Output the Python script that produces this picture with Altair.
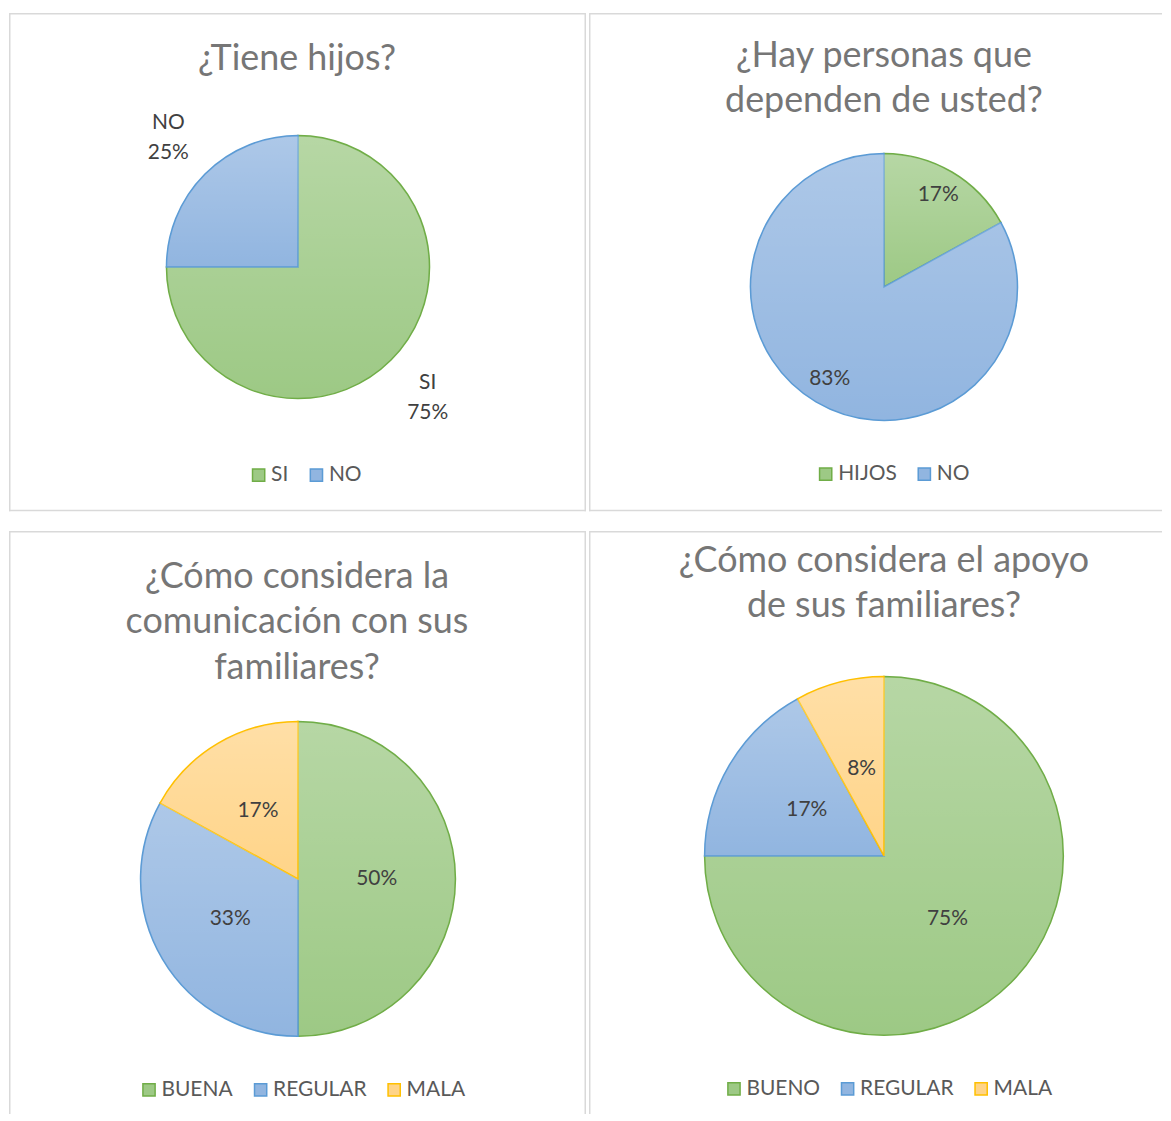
import altair as alt
import pandas as pd

# ---------------- data ----------------
p1_cats = ["SI", "NO"]
p1_vals = [75, 25]
p1_title = ["¿Tiene hijos?"]

p2_cats = ["HIJOS", "NO"]
p2_vals = [17, 83]
p2_title = ["¿Hay personas que", "dependen de usted?"]

p3_cats = ["BUENA", "REGULAR", "MALA"]
p3_vals = [50, 33, 17]
p3_title = ["¿Cómo considera la", "comunicación con sus", "familiares?"]

p4_cats = ["BUENO", "REGULAR", "MALA"]
p4_vals = [75, 17, 8]
p4_title = ["¿Cómo considera el apoyo", "de sus familiares?"]

# ---------------- style ----------------
FILLS = ["#9dc985", "#91b5e0", "#ffd488"]
STROKES = ["#70ad47", "#5b9bd5", "#ffc000"]
SHADE = {
    "gradient": "linear", "x1": 0, "y1": 0, "x2": 0, "y2": 1,
    "stops": [
        {"offset": 0, "color": "rgba(255,255,255,0.26)"},
        {"offset": 1, "color": "rgba(255,255,255,0)"},
    ],
}
FONT = "Lato"
BORDER = "#d9d9d9"


def panel(cats, vals, title_lines, w, h, cx, cy, r, label_r, tx, ty,
          lx, ly, with_cat=False, edges=("top", "left")):
    n = len(cats)
    df = pd.DataFrame({"cat": cats, "val": vals, "idx": list(range(n))})
    leg = alt.Legend(
        orient="none", legendX=lx, legendY=ly, direction="horizontal",
        title=None, symbolType="square", symbolSize=150,
        symbolStrokeWidth=1.5, labelFont=FONT, labelFontSize=21,
        labelColor="#595959", columnPadding=17, labelOffset=2,
    )
    base = alt.Chart(df).encode(
        theta=alt.Theta("val:Q", stack=True),
        order=alt.Order("idx:Q"),
        x=alt.value(cx),
        y=alt.value(cy),
    )
    arcs = base.mark_arc(outerRadius=r, strokeWidth=1.5).encode(
        fill=alt.Fill("cat:N", scale=alt.Scale(domain=cats, range=FILLS[:n]), legend=leg),
        stroke=alt.Stroke("cat:N", scale=alt.Scale(domain=cats, range=STROKES[:n]), legend=leg),
    )
    shade = base.mark_arc(outerRadius=r - 1, fill=SHADE)
    if with_cat:
        expr = "[datum.cat, datum.val + '%']"
        dy = -14
    else:
        expr = "datum.val + '%'"
        dy = 0
    labels = base.transform_calculate(label=expr).mark_text(
        radius=label_r, font=FONT, fontSize=21, color="#404040",
        lineHeight=30, dy=dy,
    ).encode(text="label:N")
    tdf = pd.DataFrame({"title": ["\n".join(title_lines)]})
    title = alt.Chart(tdf).mark_text(
        font=FONT, fontSize=36, color="#767676", lineBreak="\n",
        lineHeight=45.5, align="center", baseline="middle",
    ).encode(text="title:N", x=alt.value(tx), y=alt.value(ty))

    frame = alt.Chart(tdf)
    rules = []
    for e in edges:
        if e == "top":
            enc = dict(x=alt.value(0), x2=alt.value(w), y=alt.value(0.75))
        elif e == "bottom":
            enc = dict(x=alt.value(0), x2=alt.value(w), y=alt.value(h - 0.75))
        elif e == "left":
            enc = dict(x=alt.value(0.75), y=alt.value(0), y2=alt.value(h))
        else:  # right
            enc = dict(x=alt.value(w - 0.75), y=alt.value(0), y2=alt.value(h))
        rules.append(frame.mark_rule(color=BORDER, strokeWidth=1.5).encode(**enc))

    return alt.layer(*rules, arcs, shade, labels, title).properties(width=w, height=h)


c1 = panel(p1_cats, p1_vals, p1_title, 579, 500, 290, 255, 132, 184, 289, 46,
           240, 453, with_cat=True, edges=("top", "left", "right", "bottom"))
c2 = panel(p2_cats, p2_vals, p2_title, 575, 500, 296, 275, 134, 107, 296, 43,
           227, 452, edges=("top", "left", "bottom"))
c3 = panel(p3_cats, p3_vals, p3_title, 579, 585, 290, 349, 158, 79, 289, 46,
           130, 550, edges=("top", "left", "right"))
c4 = panel(p4_cats, p4_vals, p4_title, 575, 585, 296, 326, 180, 90, 296, 30,
           135, 549, edges=("top", "left"))

row1 = alt.hconcat(c1, c2, spacing=1).resolve_scale(
    fill="independent", stroke="independent", theta="independent")
row2 = alt.hconcat(c3, c4, spacing=1).resolve_scale(
    fill="independent", stroke="independent", theta="independent")

chart = alt.vconcat(row1, row2, spacing=18).resolve_scale(
    fill="independent", stroke="independent", theta="independent"
).properties(
    padding={"top": 2, "left": 0, "right": 0, "bottom": 0}
).configure_view(strokeWidth=0)

chart.save("out.html", embed_options={"renderer": "svg", "actions": False})
